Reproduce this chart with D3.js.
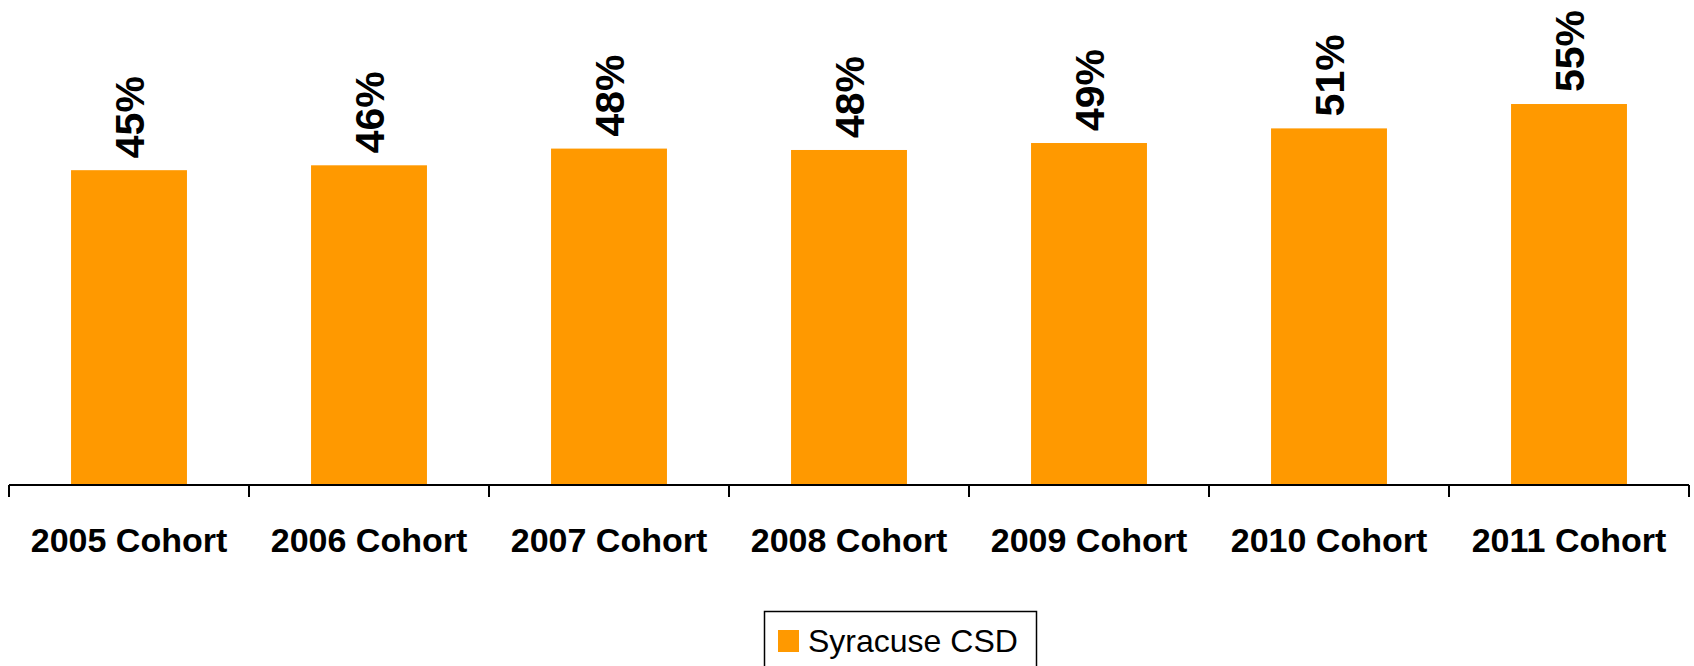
<!DOCTYPE html>
<html>
<head>
<meta charset="utf-8">
<script src="https://cdn.jsdelivr.net/npm/d3@7/dist/d3.min.js"></script>
<style>
  html, body { margin: 0; padding: 0; background: #fff; }
  svg { display: block; font-family: Arial, "Liberation Sans", sans-serif; }
</style>
</head>
<body>
<svg id="chart" width="1694" height="666"></svg>
<script>
const categories = ["2005 Cohort", "2006 Cohort", "2007 Cohort", "2008 Cohort", "2009 Cohort", "2010 Cohort", "2011 Cohort"];
const values = [0.452, 0.459, 0.483, 0.481, 0.491, 0.512, 0.547];
const valueLabels = ["45%", "46%", "48%", "48%", "49%", "51%", "55%"];
const seriesName = "Syracuse CSD";

const W = 1694, H = 666;
const left = 9, right = 1689, baseline = 485;
const pxPerUnit = 696.5;

const svg = d3.select("#chart");

const x = d3.scaleBand().domain(categories).range([left, right]).paddingInner(0.517).paddingOuter(0.2585);
const y = d3.scaleLinear().domain([0, 0.7]).range([baseline, baseline - 0.7 * pxPerUnit]);

// bars
svg.append("g").selectAll("rect").data(values).join("rect")
  .attr("x", (d, i) => x(categories[i]))
  .attr("y", d => y(d))
  .attr("width", x.bandwidth())
  .attr("height", d => baseline - y(d))
  .attr("fill", "#FF9900");

// value labels (rotated)
svg.append("g").selectAll("text").data(values).join("text")
  .attr("transform", (d, i) => `translate(${x(categories[i]) + x.bandwidth() / 2},${y(d) - 12}) rotate(-90)`)
  .attr("dy", "0.36em")
  .attr("text-anchor", "start")
  .attr("font-size", 41)
  .attr("font-weight", "bold")
  .attr("fill", "#000")
  .text((d, i) => valueLabels[i]);

// x axis
const xTicks = d3.scalePoint().domain(d3.range(categories.length + 1)).range([left, right]);
const axisG = svg.append("g");
axisG.append("line")
  .attr("x1", left).attr("x2", right)
  .attr("y1", baseline).attr("y2", baseline)
  .attr("stroke", "#000").attr("stroke-width", 2);
axisG.selectAll("line.tick").data(xTicks.domain()).join("line")
  .attr("class", "tick")
  .attr("x1", d => xTicks(d)).attr("x2", d => xTicks(d))
  .attr("y1", baseline).attr("y2", baseline + 12)
  .attr("stroke", "#000").attr("stroke-width", 2);

axisG.selectAll("text").data(categories).join("text")
  .attr("x", d => x(d) + x.bandwidth() / 2)
  .attr("y", 552)
  .attr("text-anchor", "middle")
  .attr("font-size", 34)
  .attr("font-weight", "bold")
  .attr("fill", "#000")
  .text(d => d);

// legend
const lg = svg.append("g");
lg.append("rect")
  .attr("x", 764.5).attr("y", 611.5)
  .attr("width", 272).attr("height", 80)
  .attr("fill", "#fff").attr("stroke", "#000").attr("stroke-width", 1.5);
lg.append("rect")
  .attr("x", 778).attr("y", 630)
  .attr("width", 21).attr("height", 22)
  .attr("fill", "#FF9900");
lg.append("text")
  .attr("x", 808).attr("y", 652)
  .attr("font-size", 32)
  .attr("fill", "#000")
  .text(seriesName);
</script>
</body>
</html>
